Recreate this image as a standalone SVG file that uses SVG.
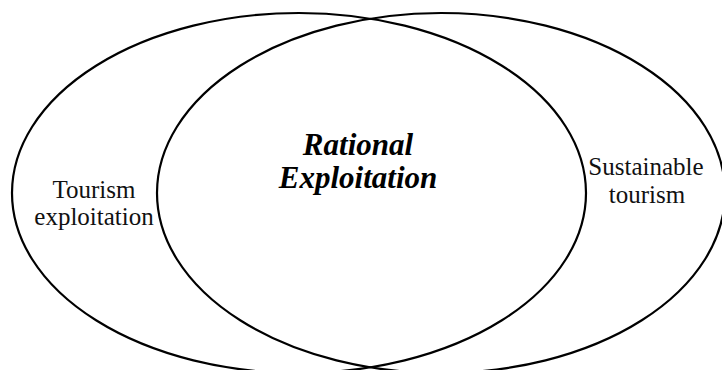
<svg xmlns="http://www.w3.org/2000/svg" width="722" height="370" viewBox="0 0 722 370">
<style>
.ring{fill:none;stroke:#000;stroke-width:2.2}
.lbl{font-family:"Liberation Serif","Times New Roman",serif;font-size:25px;fill:#111;text-anchor:middle}
.main{font-family:"Liberation Serif","Times New Roman",serif;font-size:31px;font-weight:bold;font-style:italic;fill:#000;text-anchor:middle}
</style>
<rect width="722" height="370" fill="#fff"/>
<g id="tourism-exploitation">
<ellipse class="ring" cx="299" cy="193" rx="287" ry="180"/>
<text class="lbl" x="94" y="198">Tourism</text>
<text class="lbl" x="94" y="225">exploitation</text>
</g>
<g id="sustainable-tourism">
<ellipse class="ring" cx="441" cy="193" rx="284" ry="180"/>
<text class="lbl" x="646" y="175">Sustainable</text>
<text class="lbl" x="647" y="203">tourism</text>
</g>
<g id="rational-exploitation">
<text class="main" x="358" y="155">Rational</text>
<text class="main" x="358" y="188">Exploitation</text>
</g>
<g id="connectors"/>
</svg>
